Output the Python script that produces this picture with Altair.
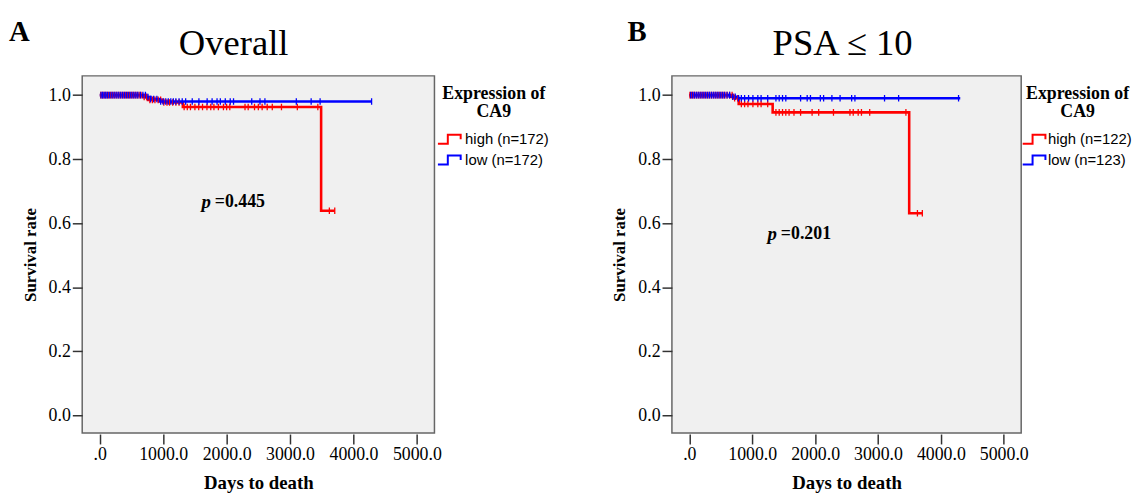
import altair as alt
import pandas as pd

SERIF = "Liberation Serif"
SANS = "Liberation Sans"
RED = "#FF0000"
BLUE = "#0000FF"

X_TICKS = [0, 1000, 2000, 3000, 4000, 5000]
Y_TICKS = [0.0, 0.2, 0.4, 0.6, 0.8, 1.0]
X_DOM = [-277, 5277]
Y_DOM = [-0.055, 1.06]
H = 361

# ---------------- Panel A : Overall ----------------
A_labels = ["high (n=172)", "low (n=172)"]
A_high_t = [0, 680, 760, 1000, 1310, 3490, 3705]
A_high_s = [1.0, 0.994, 0.985, 0.977, 0.963, 0.639, 0.639]
A_low_t = [0, 730, 800, 940, 4286]
A_low_s = [1.0, 0.994, 0.988, 0.980, 0.980]
A_high_cens = [15, 40, 65, 90, 115, 140, 170, 200, 230, 260, 290, 320, 350, 380,
               410, 440, 470, 500, 530, 560, 590, 620, 650, 700, 740, 790, 830,
               870, 920, 960, 1010, 1060, 1100, 1150, 1200, 1250, 1330, 1380,
               1430, 1500, 1560, 1620, 1690, 1750, 1800, 1870, 1950, 2000, 2050,
               2290, 2340, 2440, 2500, 2560, 2640, 2720, 2865, 3115, 3438, 3620,
               3705]
A_low_cens = [20, 45, 70, 95, 120, 150, 180, 210, 240, 270, 300, 330, 360, 390,
              420, 450, 480, 510, 540, 570, 600, 640, 680, 720, 760, 800, 850,
              900, 960, 1000, 1040, 1080, 1120, 1160, 1200, 1250, 1300, 1354,
              1458, 1563, 1693, 1771, 1849, 1901, 1979, 2057, 2109, 2396, 2526,
              2604, 3099, 3333, 3474, 4286]
A_p = ["p", "=0.445"]
A_p_pos = [1766, 0.667]

# ---------------- Panel B : PSA <= 10 ----------------
B_labels = ["high (n=122)", "low (n=123)"]
B_high_t = [0, 697, 785, 1325, 3496, 3705]
B_high_s = [1.0, 0.990, 0.972, 0.946, 0.631, 0.631]
B_low_t = [0, 644, 775, 4308]
B_low_s = [1.0, 0.995, 0.990, 0.990]
B_high_cens = [10, 35, 60, 85, 115, 145, 175, 205, 235, 265, 295, 325, 355, 385,
               415, 445, 475, 505, 535, 565, 600, 640, 680, 720, 770, 827, 879,
               932, 1011, 1089, 1141, 1246, 1377, 1429, 1482, 1534, 1586, 1664,
               1769, 1952, 2057, 2292, 2554, 2606, 2685, 2737, 2868, 3444, 3627,
               3705]
B_low_cens = [20, 50, 80, 110, 140, 170, 200, 230, 260, 290, 320, 350, 380, 410,
              440, 470, 500, 530, 560, 600, 640, 690, 730, 780, 827, 879, 942,
              1011, 1089, 1141, 1246, 1377, 1429, 1482, 1534, 1769, 1874, 1926,
              2083, 2135, 2267, 2397, 2581, 2633, 3104, 3328, 4281]
B_p = ["p", "=0.201"]
B_p_pos = [1408, 0.567]

LEGEND_PATH = "M-1.15,0.45L-0.15,0.45L-0.15,-0.45L1.15,-0.45L1.15,0"


def steps_df(t, s, g):
    return pd.DataFrame({"t": t, "s": s, "g": g})


def censor_df(ct, t, s, g):
    vals = []
    for c in ct:
        v = s[0]
        for tt, ss in zip(t, s):
            if tt <= c:
                v = ss
        vals.append(v)
    return pd.DataFrame({"t": ct, "s": vals, "g": g})


def panel(W, leg_dx, lab_off, letter, letter_dx, title, title_dx, labels,
          ht, hs, lt, ls, hc, lc, ptxt, ppos):
    steps = pd.concat([steps_df(ht, hs, labels[0]), steps_df(lt, ls, labels[1])])
    cens = pd.concat([censor_df(hc, ht, hs, labels[0]), censor_df(lc, lt, ls, labels[1])])

    color = alt.Color(
        "g:N",
        scale=alt.Scale(domain=labels, range=[RED, BLUE]),
        legend=alt.Legend(
            title=["Expression of", "CA9"],
            titleFont=SERIF, titleFontSize=18, titleFontWeight="bold",
            titleColor="black", titleAlign="center", titleAnchor="middle",
            titleLineHeight=19, titlePadding=7,
            labelFont=SANS, labelFontSize=15, labelColor="black",
            labelOffset=lab_off, symbolType=LEGEND_PATH, symbolSize=400,
            symbolStrokeWidth=2, symbolFillColor="transparent",
            rowPadding=1, orient="none", legendX=W + leg_dx, legendY=9, padding=0,
        ),
    )
    x = alt.X(
        "t:Q",
        scale=alt.Scale(domain=X_DOM, nice=False, zero=False),
        axis=alt.Axis(
            values=X_TICKS,
            labelExpr="datum.value == 0 ? '.0' : format(datum.value, '.1f')",
            title="Days to death", titleFont=SERIF, titleFontSize=19,
            titleFontWeight="bold", titleColor="black",
            labelFont=SERIF, labelFontSize=18, labelColor="black",
            domain=False, grid=False, tickSize=10, tickColor="#333333",
            tickWidth=1.5, labelPadding=2, titlePadding=10, offset=1,
        ),
    )
    y = alt.Y(
        "s:Q",
        scale=alt.Scale(domain=Y_DOM, nice=False, zero=False),
        axis=alt.Axis(
            values=Y_TICKS, format=".1f",
            title="Survival rate", titleFont=SERIF, titleFontSize=17,
            titleFontWeight="bold", titleColor="black",
            labelFont=SERIF, labelFontSize=18, labelColor="black",
            domain=False, grid=False, tickSize=10, tickColor="#333333",
            tickWidth=1.5, labelPadding=2, titlePadding=9,
        ),
    )

    lines = alt.Chart(steps).mark_line(
        interpolate="step-after", strokeWidth=2.6, clip=True
    ).encode(x=x, y=y, color=color, detail="g:N")

    points = alt.Chart(cens).mark_point(
        shape="M0,-1L0,1", size=44, strokeWidth=1.3, filled=False, opacity=1, clip=True
    ).encode(x=x, y=y, color=color)

    pdf = pd.DataFrame({"t": [ppos[0]], "s": [ppos[1]], "p": [ptxt[0]], "v": [ptxt[1]]})
    p_it = alt.Chart(pdf).mark_text(
        font=SERIF, fontSize=19, fontWeight="bold", fontStyle="italic",
        align="right", baseline="middle", dx=-1, color="black"
    ).encode(x=alt.X("t:Q"), y=alt.Y("s:Q"), text="p:N")
    p_val = alt.Chart(pdf).mark_text(
        font=SERIF, fontSize=18, fontWeight="bold",
        align="left", baseline="middle", dx=3, color="black"
    ).encode(x=alt.X("t:Q"), y=alt.Y("s:Q"), text="v:N")

    ldf = pd.DataFrame({"l": [letter], "ttl": [title]})
    let = alt.Chart(ldf).mark_text(
        font=SERIF, fontSize=29, fontWeight="bold", align="left",
        baseline="alphabetic", color="black"
    ).encode(x=alt.value(letter_dx), y=alt.value(-35), text="l:N")
    ttl = alt.Chart(ldf).mark_text(
        font=SERIF, fontSize=37, fontWeight="normal", align="center",
        baseline="alphabetic", color="black"
    ).encode(x=alt.value(W / 2 + title_dx), y=alt.value(-21), text="ttl:N")

    return alt.layer(lines, points, p_it, p_val, let, ttl).properties(width=W, height=H)


pA = panel(356, 4, 5, "A", -74, "Overall", -25, A_labels, A_high_t, A_high_s,
           A_low_t, A_low_s, A_high_cens, A_low_cens, A_p, A_p_pos)
pB = panel(353, 2, 3, "B", -45, "PSA \u2264 10", -4, B_labels, B_high_t, B_high_s,
           B_low_t, B_low_s, B_high_cens, B_low_cens, B_p, B_p_pos)

chart = alt.hconcat(pA, pB, spacing=60).resolve_scale(
    color="independent"
).resolve_legend(color="independent").configure_view(
    fill="#F0F0F0", stroke="#666666", strokeWidth=1.5
).properties(padding={"left": 0, "top": 7, "right": 0, "bottom": 0}, background="white")

chart.save("out.html", embed_options={"renderer": "svg", "actions": False})
